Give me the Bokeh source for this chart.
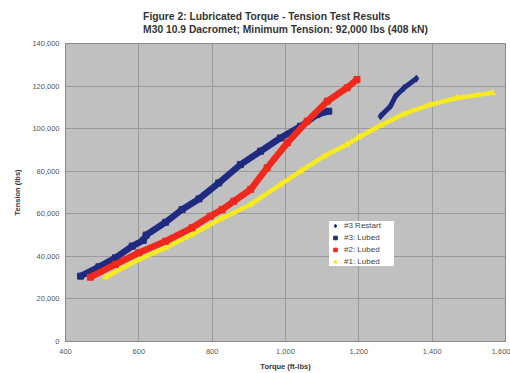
from bokeh.plotting import figure
from bokeh.models import (Range1d, FixedTicker, NumeralTickFormatter, Title,
                          Legend, LegendItem, ColumnDataSource)
from bokeh.embed import file_html
from bokeh.resources import INLINE

# ---- data ----
title_lines = ["Figure 2: Lubricated Torque - Tension Test Results",
               "M30 10.9 Dacromet; Minimum Tension: 92,000 lbs (408 kN)"]
x_ticks = [400, 600, 800, 1000, 1200, 1400, 1600]
y_ticks = [0, 20000, 40000, 60000, 80000, 100000, 120000, 140000]

lubed3_torque = [441, 491, 536, 582, 612, 620, 673, 718, 764, 818, 877, 932, 986, 1041, 1086, 1118]
lubed3_tension = [30700, 35100, 39300, 44800, 47500, 50000, 56000, 62000, 67000, 74500,
                  83100, 89400, 95600, 101100, 106600, 108200]

lubed2_torque = [468, 536, 600, 673, 745, 795, 827, 859, 905, 950, 1005, 1059, 1114, 1168, 1195]
lubed2_tension = [30200, 36200, 41700, 47100, 53400, 58900, 62000, 65900, 71400, 81600,
                  93300, 103500, 112900, 119200, 123100]

lubed1_torque = [509, 600, 673, 745, 823, 905, 986, 1041, 1105, 1168, 1200, 1259, 1323, 1395, 1468, 1564]
lubed1_tension = [30200, 38500, 44000, 50300, 57500, 64400, 73700, 80000, 87000, 92500,
                  96000, 101500, 106900, 111300, 114400, 116800]

restart3_torque = [1259, 1286, 1300, 1323, 1357]
restart3_tension = [105800, 110500, 115200, 119100, 123500]

FONT = "Liberation Sans"
NAVY = "#1f2a80"
RED = "#f0281e"
YELLOW = "#f5eb1e"

p = figure(width=510, height=373, output_backend="svg", toolbar_location=None,
           x_range=Range1d(400, 1600), y_range=Range1d(0, 140000),
           min_border_left=65, min_border_right=5, min_border_top=0, min_border_bottom=31,
           background_fill_color="#c0c0c0", border_fill_color="white", title=None)

p.outline_line_color = "#8a8a8a"

t = Title(text="\n".join(title_lines), align="center",
          text_font=FONT, text_font_size="10.3px", text_font_style="bold", text_color="#333333",
          text_line_height=1.26, standoff=16, offset=29)
p.add_layout(t, "above")

for ax in (p.xaxis[0], p.yaxis[0]):
    ax.major_label_text_font = FONT
    ax.major_label_text_font_size = "7.5px"
    ax.major_label_text_color = "#555555"
    ax.axis_label_text_font = FONT
    ax.axis_label_text_font_size = "7.5px"
    ax.axis_label_text_font_style = "bold"
    ax.axis_label_text_color = "#333333"
    ax.axis_line_color = "#888888"
    ax.major_tick_line_color = None
    ax.major_tick_out = 0
    ax.major_tick_in = 0
    ax.minor_tick_line_color = None
    ax.formatter = NumeralTickFormatter(format="0,0")

p.xaxis.ticker = FixedTicker(ticks=x_ticks)
p.yaxis.ticker = FixedTicker(ticks=y_ticks)
p.xaxis.axis_label = "Torque (ft-lbs)"
p.yaxis.axis_label = "Tension (lbs)"
p.xaxis.major_label_standoff = 7
p.xaxis.axis_label_standoff = 5
p.yaxis.major_label_standoff = 6
p.yaxis.axis_label_standoff = 7

p.xgrid.grid_line_color = "#999999"
p.ygrid.grid_line_color = "#999999"

s1 = ColumnDataSource(dict(x=lubed1_torque, y=lubed1_tension))
s2 = ColumnDataSource(dict(x=lubed2_torque, y=lubed2_tension))
s3 = ColumnDataSource(dict(x=lubed3_torque, y=lubed3_tension))
sr = ColumnDataSource(dict(x=restart3_torque, y=restart3_tension))

p.line("x", "y", source=s1, line_color=YELLOW, line_width=4.5)
r1 = p.scatter("x", "y", source=s1, marker="triangle", size=6, color=YELLOW)
p.line("x", "y", source=s3, line_color=NAVY, line_width=6.5)
r3 = p.scatter("x", "y", source=s3, marker="square", size=6, color=NAVY)
p.line("x", "y", source=s2, line_color=RED, line_width=6.5)
r2 = p.scatter("x", "y", source=s2, marker="square", size=6, color=RED)
p.line("x", "y", source=sr, line_color=NAVY, line_width=5)
rr = p.scatter("x", "y", source=sr, marker="diamond", size=7, color=NAVY)

legend = Legend(items=[LegendItem(label="#3 Restart", renderers=[rr]),
                       LegendItem(label="#3: Lubed", renderers=[r3]),
                       LegendItem(label="#2: Lubed", renderers=[r2]),
                       LegendItem(label="#1: Lubed", renderers=[r1])],
                location=(264, 75), label_text_font=FONT, label_text_font_size="8px",
                label_text_color="#444444", label_height=9, glyph_height=9, glyph_width=12,
                spacing=3, padding=5, margin=0, label_standoff=3, label_width=50,
                background_fill_color="white", background_fill_alpha=1.0,
                border_line_color=None)
p.add_layout(legend, "center")

open("out.html", "w").write(file_html(p, INLINE))
